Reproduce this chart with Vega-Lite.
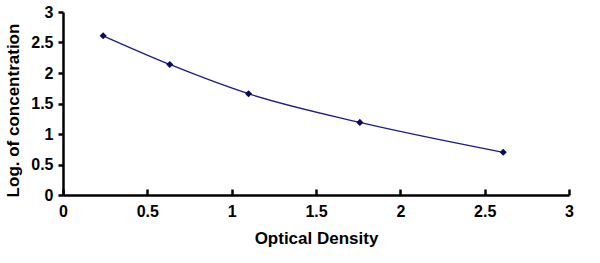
{
  "$schema": "https://vega.github.io/schema/vega-lite/v6.json",
  "autosize": "none",
  "padding": {"left": 63, "top": 12, "right": 31, "bottom": 68},
  "width": 506,
  "height": 183,
  "background": "white",
  "config": {"view": {"stroke": null}, "font": "Liberation Sans"},
  "data": {"values": [
    {"od": 0.238, "logc": 2.61},
    {"od": 0.633, "logc": 2.14},
    {"od": 1.10, "logc": 1.66},
    {"od": 1.76, "logc": 1.19},
    {"od": 2.61, "logc": 0.70}
  ]},
  "encoding": {
    "x": {"field": "od", "type": "quantitative", "scale": {"domain": [0, 3], "nice": false},
      "axis": {"title": "Optical Density", "values": [0, 0.5, 1, 1.5, 2, 2.5, 3], "format": "~g", "grid": false,
        "domainColor": "black", "domainWidth": 2.5, "tickColor": "black", "tickWidth": 2.5, "tickSize": -6,
        "labelFont": "Liberation Sans", "labelFontWeight": "bold", "labelFontSize": 16, "labelColor": "black", "labelPadding": 14,
        "titleFont": "Liberation Sans", "titleFontWeight": "bold", "titleFontSize": 17, "titleColor": "black", "titlePadding": 11, "labelFlush": false}},
    "y": {"field": "logc", "type": "quantitative", "scale": {"domain": [0, 3], "nice": false},
      "axis": {"title": "Log. of concentration", "values": [0, 0.5, 1, 1.5, 2, 2.5, 3], "format": "~g", "grid": false,
        "domainColor": "black", "domainWidth": 2.5, "tickColor": "black", "tickWidth": 2.5, "tickSize": 5,
        "labelFont": "Liberation Sans", "labelFontWeight": "bold", "labelFontSize": 16, "labelColor": "black", "labelPadding": 5,
        "titleFont": "Liberation Sans", "titleFontWeight": "bold", "titleFontSize": 17, "titleColor": "black", "titlePadding": 8, "titleY": 98, "labelFlush": false}}
  },
  "layer": [
    {"mark": {"type": "line", "interpolate": "monotone", "color": "#1c1c8a", "strokeWidth": 1.3}},
    {"mark": {"type": "point", "shape": "diamond", "filled": true, "color": "#0a0a5c", "size": 50, "opacity": 1}}
  ]
}
